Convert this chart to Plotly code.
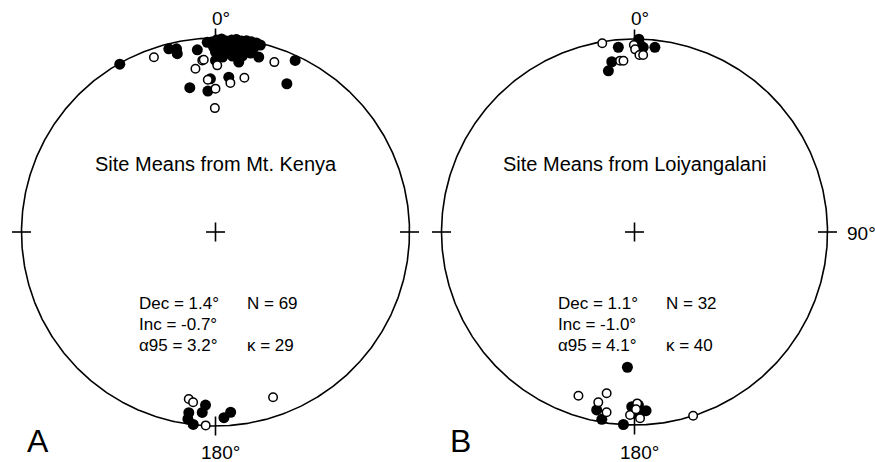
import numpy as np
import plotly.graph_objects as go

# ---------------- data: site-mean directions (declination, inclination, degrees) ----------------
kenya_dec = [330.3, 340.6, 345.7, 348.0, 347.9, 354.3, 357.5, 355.6, 356.1, 353.0,
             7.8, 13.9, 19.1, 24.9, 25.7, 0.6, 0.0, 358.1, 357.1, 4.9,
             5.7, 10.6, 349.9, 356.9, 0.0, 359.7,
             358.8, 0.3, 1.8, 3.3, 4.8, 6.2, 7.8, 9.2, 10.7, 12.2, 13.5,
             359.4, 0.9, 2.4, 4.0, 5.5, 7.0, 8.6, 10.1, 11.7,
             0.0, 1.6, 3.2, 4.8, 6.3, 7.9, 9.4, 11.1, 2.3, 5.5, 8.7, 6.1,
             189.1, 187.5, 183.3, 184.2, 188.4, 188.4, 186.6, 182.9, 177.4, 175.2, 160.8]
kenya_inc = [0.5, -5.0, 2.9, 3.9, 6.7, 6.3, 2.4, -12.3, -12.0, -16.3,
             12.6, 7.9, -8.1, 2.8, 16.3, -15.2, 12.6, 22.1, -22.5, 21.0,
             -23.8, -20.2, 25.4, 28.1, -27.0, -36.3,
             2.3, 1.2, 0.5, 1.6, 0.8, 0.2, 0.7, 0.1, 0.3, 0.3, 1.0,
             5.2, 4.6, 4.0, 4.9, 4.1, 3.3, 4.0, 3.0, 3.6,
             8.0, 7.4, 8.4, 7.7, 6.3, 7.1, 6.0, 6.7, 10.7, 9.8, 9.0, 0.5,
             -13.9, -12.5, 11.6, 7.5, 6.5, 2.9, 0.2, -0.2, 4.7, 7.5, -10.7]

loiy_dec = [350.3, 355.0, 1.3, 1.7, 359.8, 0.2, 2.7, 6.3, 1.6, 2.8,
            352.4, 350.8, 355.2, 356.3,
            183.0, 198.9, 189.8, 192.0, 192.0, 188.8, 189.9, 183.3, 180.9, 178.7,
            179.1, 176.3, 180.4, 181.4, 178.3, 179.5, 177.7, 162.3]
loiy_inc = [-0.9, 4.4, 0.1, 3.5, -3.5, -6.0, 4.7, 4.2, -9.1, -9.0,
            12.0, 16.5, -11.9, -12.1,
            30.5, -11.3, -16.3, -10.7, 6.4, -6.1, 1.7, 0.1, 10.4, 11.3,
            -12.2, 8.0, 6.8, -5.8, -3.9, -9.0, 7.6, -0.1]

site_titles = ["Site Means from Mt. Kenya", "Site Means from Loiyangalani"]
mean_dec = [1.4, 1.1]
mean_inc = [-0.7, -1.0]
alpha95 = [3.2, 4.1]
n_sites = [69, 32]
kappa = [29, 40]
panel_labels = ["A", "B"]

# ---------------- layout geometry (pixels) ----------------
W, H = 875, 462
CX = [215.5, 634.5]
CY = 232.0
RAD = [194.0, 193.0]
EDGES = [(0, 430), (430, 875)]
FONT = "Liberation Sans, Arial, Helvetica, sans-serif"


def project(dec, inc):
    d = np.radians(np.asarray(dec, float))
    i = np.radians(np.abs(np.asarray(inc, float)))
    r = np.sqrt(1.0 - np.sin(i))  # Schmidt equal-area
    return r * np.sin(d), r * np.cos(d)


fig = go.Figure()
annotations = []
datasets = [(kenya_dec, kenya_inc), (loiy_dec, loiy_inc)]

for k in range(2):
    xa = "x" if k == 0 else "x2"
    ya = "y" if k == 0 else "y2"
    R = RAD[k]
    px = lambda p: p / R  # pixel length -> data units

    # primitive circle
    th = np.linspace(0, 2 * np.pi, 721)
    fig.add_trace(go.Scatter(x=np.sin(th), y=np.cos(th), mode="lines",
                             line=dict(color="black", width=1.6),
                             xaxis=xa, yaxis=ya, hoverinfo="skip"))
    # ticks at N, E, S, W and centre cross
    t = px(9.5)
    sx, sy = [], []
    for ang in (0, 90, 180, 270):
        a = np.radians(ang)
        sx += [(1 - t) * np.sin(a), (1 + t) * np.sin(a), None]
        sy += [(1 - t) * np.cos(a), (1 + t) * np.cos(a), None]
    sx += [-t, t, None, 0, 0]
    sy += [0, 0, None, -t, t]
    fig.add_trace(go.Scatter(x=sx, y=sy, mode="lines",
                             line=dict(color="black", width=1.6),
                             xaxis=xa, yaxis=ya, hoverinfo="skip"))

    dec, inc = datasets[k]
    dec = np.asarray(dec, float)
    inc = np.asarray(inc, float)
    down = inc >= 0
    x, y = project(dec, inc)
    fig.add_trace(go.Scatter(x=x[down], y=y[down], mode="markers",
                             marker=dict(symbol="circle", size=11, color="black",
                                         line=dict(width=0)),
                             xaxis=xa, yaxis=ya))
    fig.add_trace(go.Scatter(x=x[~down], y=y[~down], mode="markers",
                             marker=dict(symbol="circle", size=8.5, color="white",
                                         line=dict(width=1.5, color="black")),
                             xaxis=xa, yaxis=ya))

    def ann(text, xp, yp, size, xanchor="left"):
        annotations.append(dict(text=text, x=px(xp), y=px(-yp), xref=xa, yref=ya,
                                xanchor=xanchor, yanchor="middle", showarrow=False,
                                font=dict(family=FONT, size=size, color="black")))

    # offsets in pixels from the circle centre (y positive downward)
    ann(site_titles[k], 0, 163.5 - CY, 20, "center")
    ann(f"Dec = {mean_dec[k]}°", -79, 303 - CY, 17)
    ann(f"Inc = {mean_inc[k]}°", -79, 324 - CY, 17)
    ann(f"α95 = {alpha95[k]}°", -79, 345.5 - CY, 17)
    ann(f"N = {n_sites[k]}", 29, 303 - CY, 17)
    ann(f"κ = {kappa[k]}", 29, 345.5 - CY, 17)
    ann("0°", -6, 18.5 - CY, 19)
    ann("180°", -17, 452 - CY, 19)
    if k == 1:
        ann("90°", 210, 233 - CY, 19)
    lx = 25 if k == 0 else 448
    ann(panel_labels[k], lx - CX[k], 441 - CY, 32)

axis_common = dict(visible=False, showgrid=False, zeroline=False, fixedrange=True)
layout_axes = {}
for k in range(2):
    sfx = "" if k == 0 else "2"
    L, Rr = EDGES[k]
    layout_axes["xaxis" + sfx] = dict(axis_common, domain=[L / W, Rr / W],
                                      range=[(L - CX[k]) / RAD[k], (Rr - CX[k]) / RAD[k]],
                                      anchor="y" + sfx)
    layout_axes["yaxis" + sfx] = dict(axis_common, domain=[0, 1],
                                      range=[(CY - H) / RAD[k], CY / RAD[k]],
                                      anchor="x" + sfx)

fig.update_layout(width=W, height=H, margin=dict(l=0, r=0, t=0, b=0),
                  paper_bgcolor="white", plot_bgcolor="white", showlegend=False,
                  annotations=annotations, **layout_axes)

fig.write_html("out.html")
